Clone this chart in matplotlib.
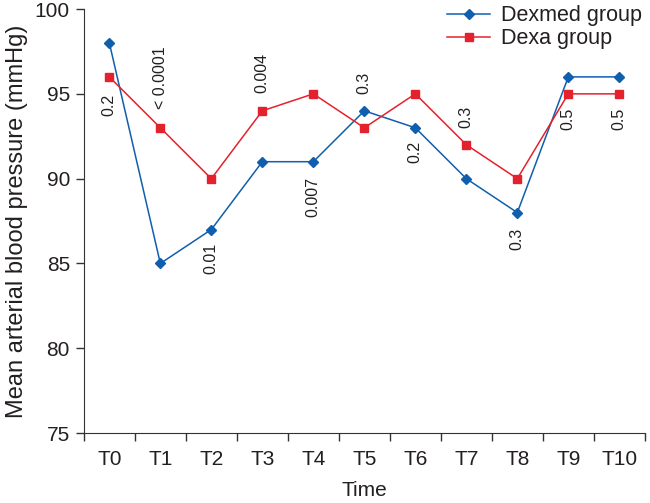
import matplotlib
matplotlib.use("Agg")
import matplotlib.pyplot as plt
import numpy as np

plt.rcParams['font.family'] = ['Liberation Sans', 'DejaVu Sans']

times = ["T0", "T1", "T2", "T3", "T4", "T5", "T6", "T7", "T8", "T9", "T10"]
dexmed = [98, 85, 87, 91, 91, 94, 93, 90, 88, 96, 96]
dexa = [96, 93, 90, 94, 95, 93, 95, 92, 90, 95, 95]
p_values = ["0.2", "< 0.0001", "0.01", "0.004", "0.007", "0.3", "0.2", "0.3", "0.3", "0.5", "0.5"]

# which series each p label hangs off, and its pixel offset from that point
p_anchor = ["dexa", "dexa", "dexmed", "dexa", "dexmed", "dexmed", "dexmed", "dexa", "dexmed", "dexa", "dexa"]
p_offset = [-28, 50, -29, 38, -35, 28, -24, 28, -26, -25, -25]

BLUE = "#105fae"
RED = "#e4222d"
TXT = "#231f20"

fig = plt.figure(figsize=(6.5, 5.03), dpi=100)
ax = fig.add_axes([0.129, 0.139, 0.863, 0.843])

x = np.arange(len(times))
ax.plot(x, dexmed, color=BLUE, lw=1.1, marker='D', ms=5.6, label="Dexmed group")
ax.plot(x, dexa, color=RED, lw=1.1, marker='s', ms=5.8, label="Dexa group")

for i, txt in enumerate(p_values):
    yv = dexa[i] if p_anchor[i] == "dexa" else dexmed[i]
    ax.annotate(txt, (x[i], yv), xytext=(0, p_offset[i] * 0.72), textcoords='offset points',
                rotation=90, ha='center', va='center', fontsize=11.5, color=TXT)

ax.set_xlim(-0.5, len(times) - 0.5)
ax.set_ylim(75, 100)
ax.set_yticks([75, 80, 85, 90, 95, 100])
ax.set_xticks(x)
ax.set_xticklabels(times)
ax.set_xticks(np.arange(-0.5, len(times)), minor=True)
ax.tick_params(axis='x', which='major', length=0, pad=12, labelsize=15, labelcolor=TXT)
ax.tick_params(axis='x', which='minor', length=6, direction='out', width=1, color='#333333')
ax.tick_params(axis='y', length=6, direction='out', width=1, labelsize=15, labelcolor=TXT,
               color='#333333', pad=4)
for s in ['top', 'right']:
    ax.spines[s].set_visible(False)
ax.spines['left'].set_color('#333333')
ax.spines['bottom'].set_color('#333333')

ax.set_xlabel("Time", fontsize=15, color=TXT, labelpad=9)
ax.set_ylabel("Mean arterial blood pressure (mmHg)", fontsize=17, color=TXT, labelpad=5)

ax.legend(loc='upper right', bbox_to_anchor=(1.03, 1.055), frameon=False, fontsize=15.5,
          handlelength=2.0, handletextpad=0.5, labelspacing=0.1, labelcolor=TXT)

fig.savefig("out.png", dpi=100)
